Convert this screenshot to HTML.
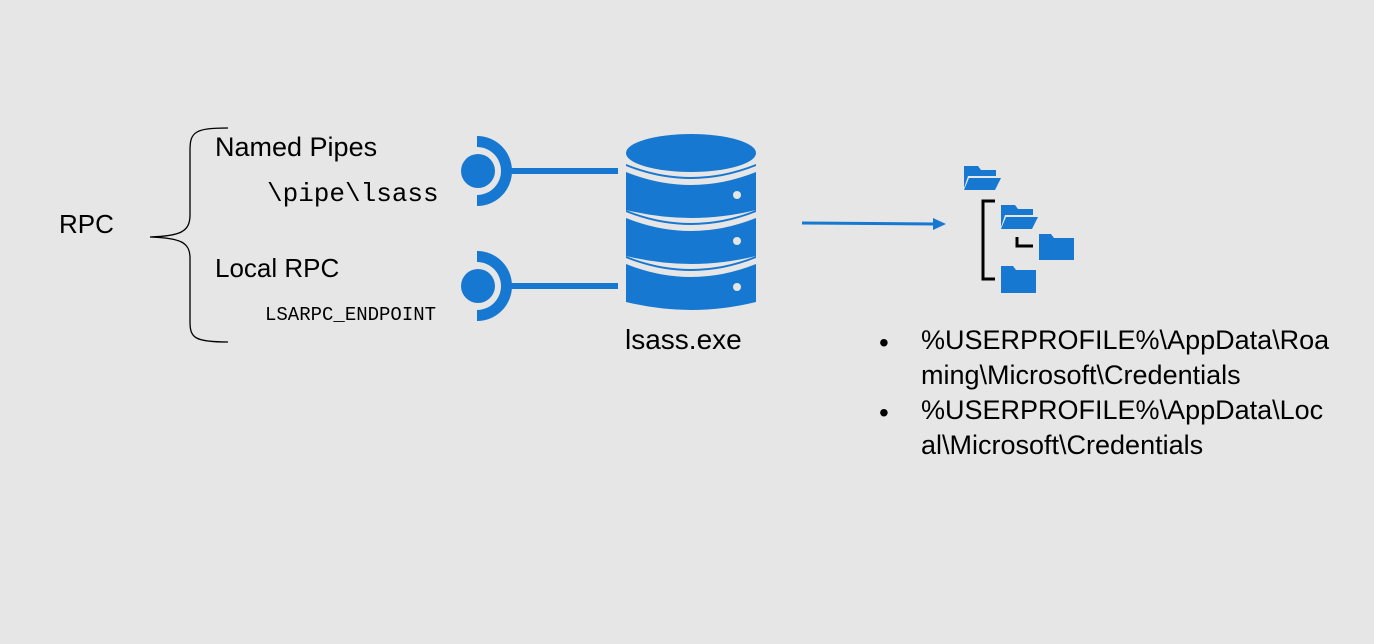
<!DOCTYPE html>
<html><head><style>
body{margin:0;width:1374px;height:644px;background:#e6e6e6;overflow:hidden;position:relative;font-family:"Liberation Sans",sans-serif;color:#000}
.t{position:absolute;white-space:nowrap;line-height:1}
.m{font-family:"Liberation Mono",monospace}
</style></head><body>
<svg width="1374" height="644" style="position:absolute;left:0;top:0">
<path d="M228,128 C195,128 190,132 190,150 L190,215 C190,232 180,236 150,237 C180,238 190,242 190,258 L190,322 C190,338 195,342 228,342" fill="none" stroke="#000" stroke-width="1.3"/>
<g fill="#1778d2">
<circle cx="478" cy="171" r="17"/>
<path d="M477,136 A35,35 0 0 1 477,206 L477,195 A24,24 0 0 0 477,147 Z"/>
<rect x="510" y="168" width="108" height="6"/>
<circle cx="478" cy="286" r="17"/>
<path d="M477,251 A35,35 0 0 1 477,321 L477,310 A24,24 0 0 0 477,262 Z"/>
<rect x="510" y="283" width="108" height="6"/>
<ellipse cx="691" cy="153" rx="65" ry="19"/>
<path d="M626,164 Q691,190 756,164 L756,210 Q691,226 626,210 Z"/>
<path d="M626,210 Q691,236 756,210 L756,256 Q691,272 626,256 Z"/>
<path d="M626,256 Q691,282 756,256 L756,302 Q691,318 626,302 Z"/>
</g>
<g fill="#e6e6e6">
<path d="M626,166 Q691,192 756,166 L756,172 Q691,198 626,172 Z"/>
<path d="M626,212 Q691,238 756,212 L756,218 Q691,244 626,218 Z"/>
<path d="M626,258 Q691,284 756,258 L756,264 Q691,290 626,264 Z"/>
<circle cx="737" cy="195" r="4"/><circle cx="737" cy="241" r="4"/><circle cx="737" cy="287" r="4"/>
</g>
<line x1="802" y1="223" x2="935" y2="224" stroke="#1778d2" stroke-width="3"/>
<path d="M946,224 L933,218 L933,230 Z" fill="#1778d2"/>
<g fill="#1778d2">
<path d="M964,166 h14 l3,4 h15 v6 h-28 l-4,12 z"/>
<path d="M969,178 h32 l-6,12 h-31 z"/>
<path d="M1001,205 h14 l3,4 h15 v6 h-28 l-4,12 z"/>
<path d="M1006,217 h32 l-6,12 h-31 z"/>
<path d="M1039,234 h12 l3,4 h20 v22 h-35 z"/>
<path d="M1001,266 h12 l3,4 h20 v23 h-35 z"/>
</g>
<path d="M995,201 h-12 v78 h12 M1017,237 v9 h16" fill="none" stroke="#000" stroke-width="3"/>
</svg>
<div class="t" style="left:59px;top:211px;font-size:26px">RPC</div>
<div class="t" style="left:215px;top:134px;font-size:27px">Named Pipes</div>
<div class="t m" style="left:267px;top:181px;font-size:26px">\pipe\lsass</div>
<div class="t" style="left:215px;top:255px;font-size:26px">Local RPC</div>
<div class="t m" style="left:265px;top:306px;font-size:19px">LSARPC_ENDPOINT</div>
<div class="t" style="left:625px;top:326px;font-size:28px">lsass.exe</div>
<div class="t" style="left:879px;top:325px;font-size:28px;line-height:35px">•</div>
<div class="t" style="left:879px;top:395px;font-size:28px;line-height:35px">•</div>
<div class="t" style="left:921px;top:323px;font-size:27px;line-height:35px">%USERPROFILE%\AppData\Roa<br>ming\Microsoft\Credentials<br>%USERPROFILE%\AppData\Loc<br>al\Microsoft\Credentials</div>
</body></html>
